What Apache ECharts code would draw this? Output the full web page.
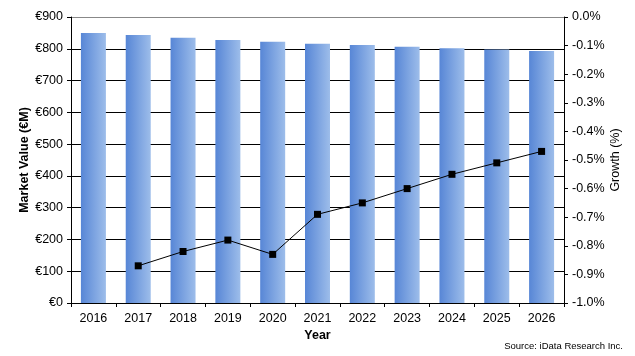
<!DOCTYPE html>
<html>
<head>
<meta charset="utf-8">
<script src="https://cdn.jsdelivr.net/npm/echarts@6/dist/echarts.min.js"></script>
<style>html,body{margin:0;padding:0;background:#fff}#c{width:635px;height:356px}</style>
</head>
<body>
<div id="c"></div>
<script>
const years = ['2016','2017','2018','2019','2020','2021','2022','2023','2024','2025','2026'];
const marketValue = [850, 843, 835, 828, 822, 816, 812, 806, 802, 798, 793];
const growth = [null, -0.87, -0.82, -0.78, -0.83, -0.69, -0.65, -0.60, -0.55, -0.51, -0.47];
const leftTicks = {min: 0, max: 900, interval: 100};
const rightTicks = {min: -1, max: 0, interval: 0.1};

const font = 'Liberation Sans, Arial, sans-serif';
const chart = echarts.init(document.getElementById('c'));
chart.setOption({
  animation: false,
  backgroundColor: '#fff',
  grid: {left: 71, right: 71, top: 17, bottom: 53, containLabel: false},
  xAxis: {
    type: 'category', data: years,
    name: 'Year', nameLocation: 'middle', nameGap: 26, nameMoveOverlap: false,
    nameTextStyle: {fontFamily: font, fontSize: 12.5, fontWeight: 'bold', color: '#000'},
    axisLine: {lineStyle: {color: '#000', width: 1}},
    axisTick: {show: true, length: 4, lineStyle: {color: '#000'}},
    axisLabel: {fontFamily: font, fontSize: 12.5, color: '#000', margin: 9}
  },
  yAxis: [{
    type: 'value', min: leftTicks.min, max: leftTicks.max, interval: leftTicks.interval,
    name: 'Market Value (€M)', nameLocation: 'middle', nameGap: 40, nameRotate: 90, nameMoveOverlap: false,
    nameTextStyle: {fontFamily: font, fontSize: 12.5, fontWeight: 'bold', color: '#000'},
    axisLine: {show: true, lineStyle: {color: '#000', width: 1}},
    axisTick: {show: true, length: 4, lineStyle: {color: '#000'}},
    axisLabel: {fontFamily: font, fontSize: 12.5, color: '#000', margin: 8, formatter: v => '€' + v},
    splitLine: {show: true, lineStyle: {color: ['#000','#000','#000','#000','#000','#000','#000','#000','#000','#888'], width: 1}}
  }, {
    type: 'value', min: rightTicks.min, max: rightTicks.max, interval: rightTicks.interval,
    name: 'Growth (%)', nameLocation: 'middle', nameGap: 45, nameRotate: 90, nameMoveOverlap: false,
    nameTextStyle: {fontFamily: font, fontSize: 12.5, color: '#000'},
    axisLine: {show: true, lineStyle: {color: '#000', width: 1}},
    axisTick: {show: true, length: 4, lineStyle: {color: '#000'}},
    axisLabel: {fontFamily: font, fontSize: 12.5, color: '#000', margin: 8, formatter: v => v.toFixed(1) + '%'},
    splitLine: {show: false}
  }],
  series: [{
    type: 'bar', data: marketValue, yAxisIndex: 0, barWidth: 25,
    itemStyle: {color: new echarts.graphic.LinearGradient(0, 0, 1, 0, [
      {offset: 0, color: '#5786d6'}, {offset: 1, color: '#9dbdea'}])}
  }, {
    type: 'line', data: growth, yAxisIndex: 1, symbol: 'rect', symbolSize: 7,
    connectNulls: false,
    lineStyle: {color: '#000', width: 1}, itemStyle: {color: '#000'}
  }],
  graphic: [{
    type: 'text', right: 12, top: 341,
    style: {text: 'Source: iData Research Inc.', fontFamily: font, fontSize: 9.5, fill: '#000'}
  }]
});
</script>
</body>
</html>
